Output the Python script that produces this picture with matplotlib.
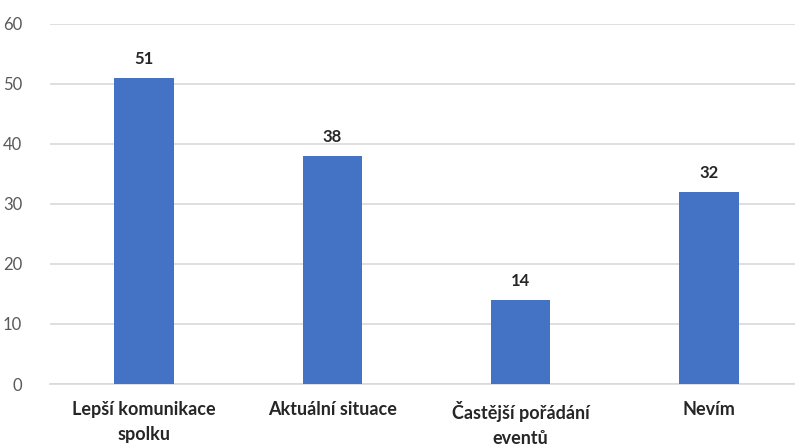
import matplotlib
matplotlib.use("Agg")
import matplotlib.pyplot as plt

categories = ["Lepší komunikace\nspolku", "Aktuální situace", "Častější pořádání\neventů", "Nevím"]
values = [51, 38, 14, 32]
yticks = [0, 10, 20, 30, 40, 50, 60]

plt.rcParams["font.family"] = ["Lato", "DejaVu Sans"]

fig = plt.figure(figsize=(7.95, 4.44), dpi=100)
ax = fig.add_axes([50 / 795, 60 / 444, 753 / 795, 360 / 444])

x = range(len(categories))
bars = ax.bar(x, values, width=0.315, color="#4472C4", zorder=3)

for xi, v in zip(x, values):
    ax.annotate(str(v), (xi, v), xytext=(0, 8), textcoords="offset points",
                ha="center", va="bottom", fontsize=12, fontweight="bold", color="#262626")

ax.set_xlim(-0.5, 3.5)
ax.set_ylim(0, 60)
ax.set_yticks(yticks)
ax.set_yticklabels([str(t) for t in yticks], fontsize=12, color="#595959")
ax.set_xticks(list(x))
ax.set_xticklabels(categories, fontsize=13, fontweight="bold", color="#262626",
                   linespacing=1.6, va="top")

ax.grid(axis="y", color="#D9D9D9", linewidth=1.2, zorder=0)
for s in ["top", "right", "left"]:
    ax.spines[s].set_visible(False)
ax.spines["bottom"].set_color("#D9D9D9")
ax.spines["bottom"].set_linewidth(1.2)
ax.tick_params(axis="both", length=0)
ax.tick_params(axis="y", pad=20)
ax.tick_params(axis="x", pad=12)

fig.savefig("out.png", dpi=100)
